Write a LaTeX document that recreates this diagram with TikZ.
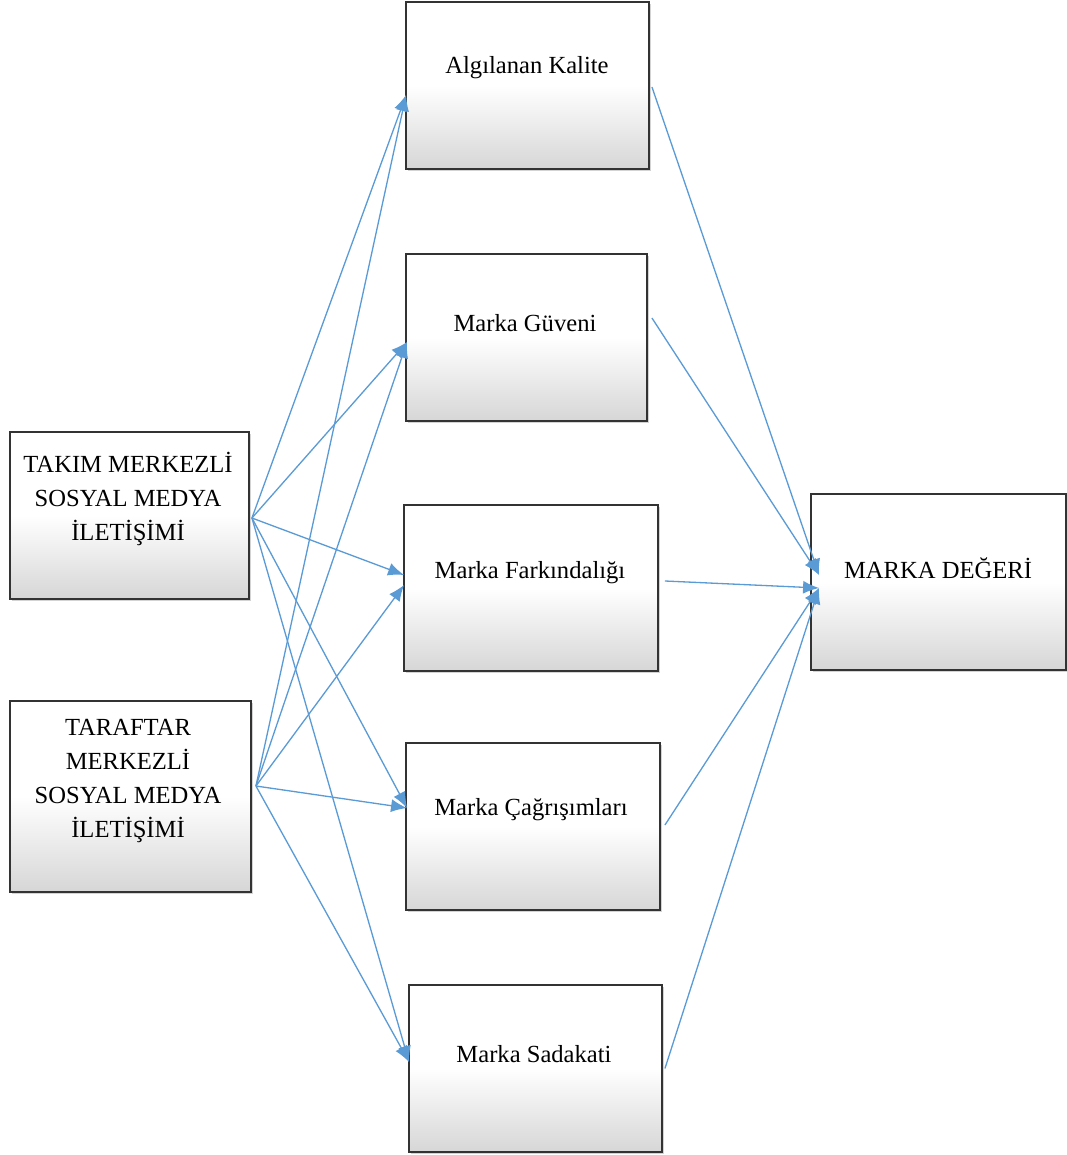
\documentclass[tikz,border=0pt]{standalone}
\usepackage{fontspec}
\setmainfont{Liberation Serif}
\usepackage{tikz}
\usetikzlibrary{arrows.meta, positioning, calc, shadows}
\definecolor{linkblue}{RGB}{91,155,213}

\begin{document}
\begin{tikzpicture}[
            x=0.02cm, y=-0.02cm, % one unit is one pixel of the layout
            font=\fontsize{14}{19.5}\selectfont,
            box/.style={
                draw=black!80,
                line width=1.1pt,
                top color=white,
                bottom color=black!16,
                middle color=white,
                drop shadow={shadow xshift=1.3pt, shadow yshift=-1.3pt, opacity=0.35}
            },
            boxtext/.style={align=center, inner sep=0pt},
            every edge/.style={
                draw=linkblue,
                line width=0.75pt,
                -{Latex[length=3.2mm, width=2.6mm]} % filled blue tips
            }
        ]
        \useasboundingbox (0,0) rectangle (1067,1155);
        % left side
        \node[box, minimum width=4.78cm, minimum height=3.34cm] (takim) at (129.5,515.5) {};
        \node[box, minimum width=4.82cm, minimum height=3.82cm] (taraftar) at (130.5,796.5) {};
        % middle column
        \node[box, minimum width=4.86cm, minimum height=3.34cm] (kalite) at (527.5,85.5) {};
        \node[box, minimum width=4.82cm, minimum height=3.34cm] (guven) at (526.5,337.5) {};
        \node[box, minimum width=5.08cm, minimum height=3.32cm] (farkindalik) at (531,588) {};
        \node[box, minimum width=5.08cm, minimum height=3.34cm] (cagrisim) at (533,826.5) {};
        \node[box, minimum width=5.06cm, minimum height=3.34cm] (sadakat) at (535.5,1068.5) {};
        % right side
        \node[box, minimum width=5.1cm, minimum height=3.52cm] (deger) at (938.5,582) {};
        % texts
        \node[boxtext] (takim-t) at (128,499) {TAKIM MERKEZLİ\\SOSYAL MEDYA\\İLETİŞİMİ};
        \node[boxtext] (taraftar-t) at (128,781) {TARAFTAR\\MERKEZLİ\\SOSYAL MEDYA\\İLETİŞİMİ};
        \node[boxtext] (kalite-t) at (527,68) {Algılanan Kalite};
        \node[boxtext] (guven-t) at (525,323) {Marka Güveni};
        \node[boxtext] (farkindalik-t) at (530,573) {Marka Farkındalığı};
        \node[boxtext] (cagrisim-t) at (531,810) {Marka Çağrışımları};
        \node[boxtext] (sadakat-t) at (534,1054) {Marka Sadakati};
        \node[boxtext] (deger-t) at (938,568) {MARKA DEĞERİ};
        \path
            ($(takim.east)+(2,2.5)$) edge ($(kalite.west)+(1,9.5)$)
            ($(takim.east)+(2,2.5)$) edge ($(guven.west)+(2,4.5)$)
            ($(takim.east)+(2,2.5)$) edge ($(farkindalik.west)+(1,-13)$)
            ($(takim.east)+(2,2.5)$) edge ($(cagrisim.west)+(2,-18.5)$)
            ($(takim.east)+(2,2.5)$) edge ($(sadakat.west)+(1,-6.5)$)
            ($(taraftar.east)+(4,-10.5)$) edge ($(kalite.west)+(1,9.5)$)
            ($(taraftar.east)+(4,-10.5)$) edge ($(guven.west)+(2,4.5)$)
            ($(taraftar.east)+(4,-10.5)$) edge ($(farkindalik.west)+(1,-3)$)
            ($(taraftar.east)+(4,-10.5)$) edge ($(cagrisim.west)+(2,-18.5)$)
            ($(taraftar.east)+(4,-10.5)$) edge ($(sadakat.west)+(1,-6.5)$)
            ($(kalite.east)+(2,1.5)$) edge ($(deger.west)+(9,-7)$)
            ($(guven.east)+(4,-19.5)$) edge ($(deger.west)+(9,-7)$)
            ($(farkindalik.east)+(6,-7)$) edge ($(deger.west)+(9,6)$)
            ($(cagrisim.east)+(4,-1.5)$) edge ($(deger.west)+(9,6)$)
            ($(sadakat.east)+(2,0)$) edge ($(deger.west)+(9,6)$);
    \end{tikzpicture}
\end{document}
